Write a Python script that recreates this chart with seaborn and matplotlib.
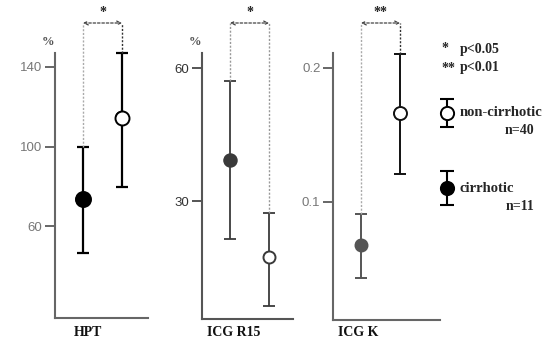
import matplotlib
matplotlib.use("Agg")
import matplotlib.pyplot as plt
import matplotlib.transforms as mtransforms
import seaborn as sns
import pandas as pd

sns.set_theme(style="white")
plt.rcParams['font.family'] = ['Liberation Serif', 'DejaVu Serif']

# ---------------- data ----------------
groups = ["cirrhotic", "non-cirrhotic"]
panel_titles = ["HPT", "ICG R15", "ICG K"]

hpt_mean = [73.5, 114.5]
hpt_lo = [46.5, 79.5]
hpt_hi = [100.0, 147.0]

r15_mean = [39.2, 17.4]
r15_lo = [21.4, 6.3]
r15_hi = [57.1, 27.3]

k_mean = [0.068, 0.166]
k_lo = [0.043, 0.121]
k_hi = [0.091, 0.210]

hpt_ticks = [60, 100, 140]
r15_ticks = [30, 60]
k_ticks = [0.1, 0.2]
k_ticklabels = ["0.1", "0.2"]

sig_labels = ["*", "*", "**"]
legend_sig = [("*", "p<0.05"), ("**", "p<0.01")]
legend_n = ["n=40", "n=11"]

# ---------------- layout ----------------
W, H = 554, 346
fig = plt.figure(figsize=(W / 100, H / 100), dpi=100)
fig.patch.set_facecolor("white")


def px_axes(l, t, w, h):
    return fig.add_axes([l / W, 1 - (t + h) / H, w / W, h / H])


panels = [
    dict(rect=(55, 53, 93, 265), ylim=(14, 147), mean=hpt_mean, lo=hpt_lo, hi=hpt_hi,
         ticks=hpt_ticks, ticklabels=[str(t) for t in hpt_ticks], title_x=88, pct=True,
         colors=["black", "black"], lw=1.6, ms=[15, 14], ecol="#666666",
         dash_cols=["#aaaaaa", "#333333"], tcol="#777777", tweight="normal"),
    dict(rect=(202, 53, 91, 266), ylim=(3.4, 63.4), mean=r15_mean, lo=r15_lo, hi=r15_hi,
         ticks=r15_ticks, ticklabels=[str(t) for t in r15_ticks], title_x=234, pct=True,
         colors=["#3a3a3a", "#3a3a3a"], lw=1.3, ms=[12.5, 12], ecol="#555555",
         dash_cols=["#999999", "#999999"], tcol="#333333", tweight="normal"),
    dict(rect=(333, 53, 107, 267), ylim=(0.012, 0.211), mean=k_mean, lo=k_lo, hi=k_hi,
         ticks=k_ticks, ticklabels=k_ticklabels, title_x=358, pct=False,
         colors=["#555555", "#111111"], lw=1.4, ms=[12, 13], ecol="#666666",
         dash_cols=["#aaaaaa", "#333333"], tcol="#777777", tweight="normal"),
]
xpos = [28, 67]  # pixel offsets of the two groups inside each panel
bracket_y = 1 - 23 / H

for i, p in enumerate(panels):
    l, t, w, h = p["rect"]
    ax = px_axes(l, t, w, h)
    ax.set_facecolor("white")
    ax.set_xlim(0, w)
    ax.set_ylim(*p["ylim"])
    df = pd.DataFrame({"x": xpos, "y": p["mean"], "group": groups})
    for j in range(2):
        ax.errorbar(xpos[j], p["mean"][j],
                    yerr=[[p["mean"][j] - p["lo"][j]], [p["hi"][j] - p["mean"][j]]],
                    fmt="none", ecolor=p["colors"][j], elinewidth=p["lw"],
                    capsize=4.5, capthick=p["lw"], zorder=2, clip_on=False)
    sns.scatterplot(data=df, x="x", y="y", hue="group", palette=p["colors"],
                    ax=ax, legend=False, s=[(m * 0.72) ** 2 for m in p["ms"]],
                    zorder=3, clip_on=False, linewidth=0)
    # redraw markers to control fill
    for j in range(2):
        face = "white" if groups[j] == "non-cirrhotic" else p["colors"][j]
        ax.plot(xpos[j], p["mean"][j], "o", ms=p["ms"][j] * 0.72, mfc=face,
                mec=p["colors"][j], mew=1.4, zorder=4, clip_on=False)

    # spines
    for s in ["top", "right"]:
        ax.spines[s].set_visible(False)
    for s in ["left", "bottom"]:
        ax.spines[s].set_color(p["ecol"])
        ax.spines[s].set_linewidth(1.5)
    ax.set_xticks([])
    ax.set_yticks(p["ticks"])
    ax.set_yticklabels(p["ticklabels"], family=["Liberation Sans", "DejaVu Sans"],
                       fontweight=p["tweight"])
    ax.tick_params(axis="y", direction="out", length=7, width=1.4, color=p["ecol"],
                   labelsize=9.5, labelcolor=p["tcol"], pad=2, left=True)
    ax.set_xlabel("")
    ax.set_ylabel("")

    # significance bracket
    trans = mtransforms.blended_transform_factory(ax.transData, fig.transFigure)
    for j in range(2):
        top_fig = ax.transData.transform((0, p["hi"][j]))[1] / (H)
        ax.plot([xpos[j], xpos[j]], [top_fig, bracket_y], transform=trans,
                color=p["dash_cols"][j], lw=1.0, ls=(0, (1.5, 1.2)), clip_on=False)
    ax.annotate("", xy=(xpos[1], bracket_y), xytext=(xpos[0], bracket_y),
                xycoords=trans, textcoords=trans,
                arrowprops=dict(arrowstyle="<->", color="#444444", lw=0.9,
                                ls=(0, (2, 1.5)), shrinkA=0, shrinkB=0,
                                mutation_scale=7))
    ax.text((xpos[0] + xpos[1]) / 2, 1 - 12 / H, sig_labels[i], transform=trans,
            ha="center", va="center", fontsize=10, fontweight="bold", color="#222222")

    fig.text(p["title_x"] / W, 1 - 333 / H, panel_titles[i], ha="center", va="center",
             fontsize=10, fontweight="bold", color="#111111")
    if p["pct"]:
        fig.text((l - 7) / W, 1 - 42 / H, "%", ha="center", va="center",
                 fontsize=9, fontweight="bold", color="#555555")

# ---------------- legend ----------------
lax = fig.add_axes([0, 0, 1, 1])
lax.set_xlim(0, W)
lax.set_ylim(H, 0)
lax.axis("off")
lax.patch.set_alpha(0)

for k, (star, txt) in enumerate(legend_sig):
    y = 49 + k * 19
    lax.text(441, y, star, ha="left", va="center", fontsize=10, fontweight="bold")
    lax.text(460, y, txt, ha="left", va="center", fontsize=10, fontweight="bold")

leg_y = [113, 188]
leg_half = [14, 17]
for j, g in enumerate(["non-cirrhotic", "cirrhotic"]):
    y = leg_y[j]
    lax.errorbar(447, y, yerr=leg_half[j], fmt="none", ecolor="black",
                 elinewidth=1.5, capsize=5, capthick=1.5)
    face = "white" if g == "non-cirrhotic" else "black"
    lax.plot(447, y, "o", ms=9.5, mfc=face, mec="black", mew=1.4, zorder=4)
    lax.text(459.5, y, g, ha="left", va="center", fontsize=10.5, fontweight="bold")
    lax.text(534, y + 18, legend_n[j], ha="right", va="center", fontsize=10,
             fontweight="bold")

fig.savefig("out.png", dpi=100, facecolor="white")
